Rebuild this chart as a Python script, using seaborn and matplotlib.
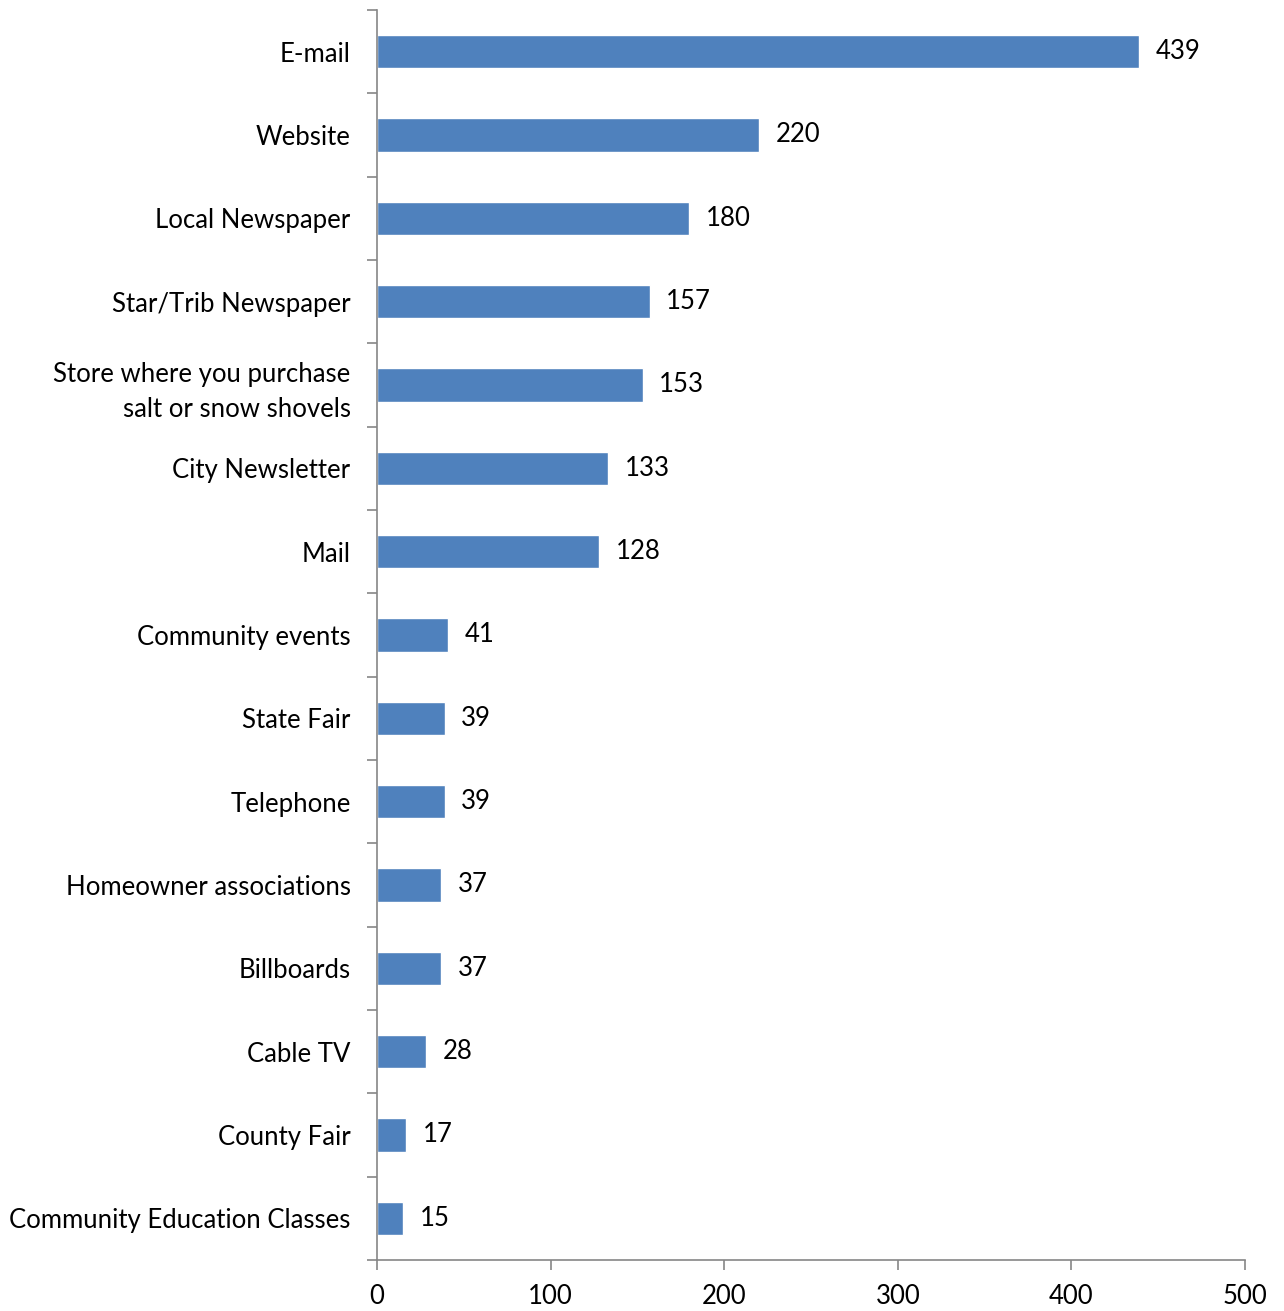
import numpy as np
import pandas as pd
import matplotlib
matplotlib.use("Agg")
import matplotlib.pyplot as plt
import seaborn as sns

# Data
channels = [
    "E-mail", "Website", "Local Newspaper", "Star/Trib Newspaper",
    "Store where you purchase\nsalt or snow shovels", "City Newsletter", "Mail",
    "Community events", "State Fair", "Telephone", "Homeowner associations",
    "Billboards", "Cable TV", "County Fair", "Community Education Classes",
]
counts = [439, 220, 180, 157, 153, 133, 128, 41, 39, 39, 37, 37, 28, 17, 15]
x_ticks = [0, 100, 200, 300, 400, 500]

df = pd.DataFrame({"channel": channels, "count": counts})

sns.set_style("white")
plt.rcParams['font.family'] = ['Lato', 'DejaVu Sans']
fs = 18.5

fig = plt.figure(figsize=(12.84, 13.11), dpi=100)
ax = fig.add_axes([0.2936, 0.0389, 0.676, 0.9535])

sns.barplot(data=df, x="count", y="channel", orient="h", color="#4F81BD",
            saturation=1, width=0.4, ax=ax)

# value labels
ax.bar_label(ax.containers[0], labels=[str(v) for v in counts],
             padding=12, fontsize=fs, color="black")

ax.set_xlim(0, 500)
ax.set_ylim(len(channels) - 0.5, -0.5)
ax.set_xticks(x_ticks)
ax.set_xticklabels([str(t) for t in x_ticks], fontsize=fs, color="black")
ax.set_xlabel("")
ax.set_ylabel("")

# y tick marks between categories, labels at centres
ax.set_yticks(np.arange(len(channels)))
ax.set_yticklabels(channels, fontsize=fs, linespacing=1.5, color="black")
ax.set_yticks(np.arange(len(channels) + 1) - 0.5, minor=True)
ax.tick_params(axis="y", which="major", length=0, pad=19)
ax.tick_params(axis="y", which="minor", length=7, width=1.2, color="#868686",
               direction="out", left=True)
ax.tick_params(axis="x", which="major", length=7, width=1.2, color="#868686",
               direction="out", bottom=True, pad=10)

for side in ["top", "right"]:
    ax.spines[side].set_visible(False)
for side in ["left", "bottom"]:
    ax.spines[side].set_color("#868686")
    ax.spines[side].set_linewidth(1.2)

fig.savefig("out.png", dpi=100)
